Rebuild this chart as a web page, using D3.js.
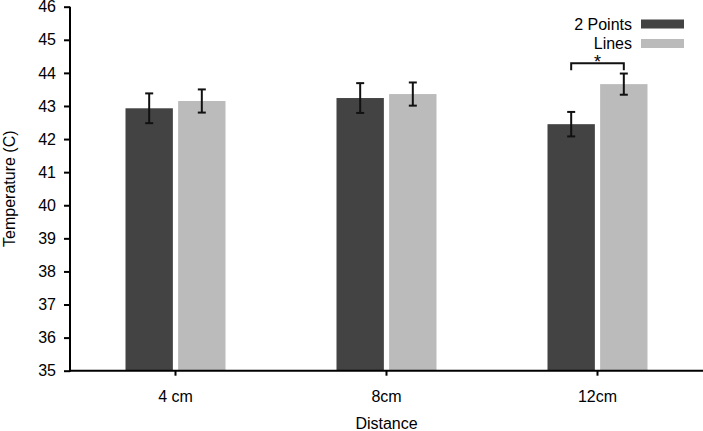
<!DOCTYPE html>
<html><head><meta charset="utf-8">
<script src="https://cdn.jsdelivr.net/npm/d3@7/dist/d3.min.js"></script>
<style>body{margin:0;background:#fff}svg{display:block;font-family:"Liberation Sans",Arial,sans-serif}</style>
</head><body><svg id="c" width="703" height="431"></svg>
<script>
const categories = ["4 cm", "8cm", "12cm"];
const seriesNames = ["2 Points", "Lines"];
const pointsMean = [42.93, 43.24, 42.45];
const pointsErr = [0.45, 0.45, 0.37];
const linesMean = [43.15, 43.36, 43.66];
const linesErr = [0.35, 0.35, 0.32];
const yTicks = [35,36,37,38,39,40,41,42,43,44,45,46];
const colors = ["#434343", "#bbbbbb"];

const svg = d3.select("#c");
const L = 70, R = 703, T = 6.7, B = 370.7;
const x = d3.scaleBand().domain(categories).range([L, R]).padding(0);
const y = d3.scaleLinear().domain([35, 46]).range([B, T]);
const sub = d3.scaleBand().domain(seriesNames).range([-50, 50]).paddingInner(0.1);

const data = [];
categories.forEach((c, i) => {
  data.push({c, s: seriesNames[0], v: pointsMean[i], e: pointsErr[i]});
  data.push({c, s: seriesNames[1], v: linesMean[i], e: linesErr[i]});
});
const cx = d => x(d.c) + x.bandwidth()/2 + sub(d.s);
const col = d3.scaleOrdinal().domain(seriesNames).range(colors);

svg.selectAll("rect.bar").data(data).join("rect").attr("class","bar")
  .attr("x", cx).attr("width", sub.bandwidth())
  .attr("y", d => y(d.v)).attr("height", d => y(35) - y(d.v))
  .attr("fill", d => col(d.s));

const eb = svg.append("g").attr("stroke","#111").attr("stroke-width",2).attr("fill","none");
data.forEach(d => {
  const m = cx(d) + sub.bandwidth()/2;
  eb.append("line").attr("x1",m).attr("x2",m).attr("y1",y(d.v+d.e)).attr("y2",y(d.v-d.e));
  eb.append("line").attr("x1",m-4).attr("x2",m+4).attr("y1",y(d.v+d.e)).attr("y2",y(d.v+d.e));
  eb.append("line").attr("x1",m-4).attr("x2",m+4).attr("y1",y(d.v-d.e)).attr("y2",y(d.v-d.e));
});

// axes
const ya = svg.append("g").attr("transform",`translate(${L},0)`)
  .call(d3.axisLeft(y).tickValues(yTicks).tickSize(6).tickPadding(8).tickSizeOuter(0));
const xa = svg.append("g").attr("transform",`translate(0,${B})`)
  .call(d3.axisBottom(x).tickSize(5).tickPadding(15).tickSizeOuter(0));
[ya, xa].forEach(a => {
  a.select(".domain").attr("stroke","#000").attr("stroke-width",2);
  a.selectAll(".tick line").attr("stroke","#000").attr("stroke-width",2);
  a.selectAll("text").attr("font-size",16).attr("fill","#000").attr("font-family","Liberation Sans, Arial, sans-serif");
});
ya.select(".domain").attr("d", `M0,${B+1}V${T}`);
xa.select(".domain").attr("d", `M${L-1},0H${R}`);

svg.append("text").attr("transform",`translate(15,${(T+B)/2}) rotate(-90)`)
  .attr("text-anchor","middle").attr("font-size",16).text("Temperature (C)");
svg.append("text").attr("x", (L+R)/2).attr("y", 429)
  .attr("text-anchor","middle").attr("font-size",16).text("Distance");

// significance bracket for 12cm
const d1 = data[4], d2 = data[5];
const bx1 = cx(d1) + sub.bandwidth()/2, bx2 = cx(d2) + sub.bandwidth()/2;
const by = y(44.29);
svg.append("path").attr("d", `M${bx1},${by+7}V${by}H${bx2}V${by+7}`)
  .attr("fill","none").attr("stroke","#111").attr("stroke-width",2);
svg.append("text").attr("x",(bx1+bx2)/2).attr("y",by+4.5).attr("text-anchor","middle")
  .attr("font-size",18).text("*");

// legend
const lg = svg.append("g");
seriesNames.forEach((s, i) => {
  const yy = 24 + i*19.5;
  lg.append("text").attr("x", 632).attr("y", yy).attr("dy","0.35em")
    .attr("text-anchor","end").attr("font-size",16).text(s);
  lg.append("rect").attr("x", 641).attr("y", yy-4.5).attr("width", 43).attr("height", 9)
    .attr("fill", colors[i]);
});
</script></body></html>
